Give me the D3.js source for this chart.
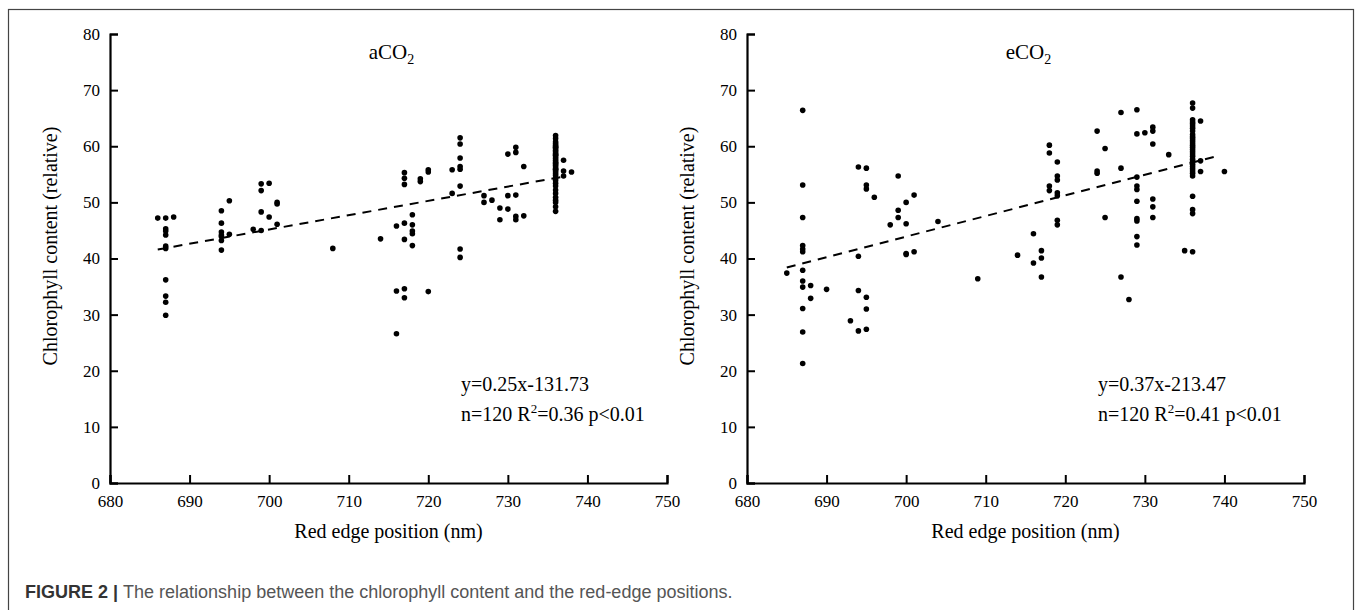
<!DOCTYPE html>
<html>
<head>
<meta charset="utf-8">
<script src="https://cdn.jsdelivr.net/npm/d3@7"></script>
<style>
  body { margin: 0; background: #fff; }
  svg { display: block; }
</style>
</head>
<body>
<svg width="1363" height="610"></svg>
<script>
// axis ticks
var xTicks = [680, 690, 700, 710, 720, 730, 740, 750];
var yTicks = [0, 10, 20, 30, 40, 50, 60, 70, 80];

// aCO2 points: [red edge position (nm), chlorophyll content]
var aco2Points = [
    [686, 47.2],
    [687, 47.2], [687, 45.3], [687, 44.9], [687, 44.2], [687, 42.2], [687, 41.8], [687, 36.2], [687, 33.3], [687, 32.2], [687, 29.9],
    [688, 47.4],
    [694, 48.5], [694, 46.3], [694, 44.7], [694, 44.2], [694, 43.9], [694, 43.2], [694, 41.5],
    [695, 50.3], [695, 44.3],
    [698, 45.2],
    [699, 53.3], [699, 52.1], [699, 48.3], [699, 45.0],
    [700, 53.4], [700, 47.4],
    [701, 50.0], [701, 49.7], [701, 46.1],
    [708, 41.8],
    [714, 43.5],
    [716, 45.8], [716, 34.2], [716, 26.6],
    [717, 55.3], [717, 54.3], [717, 53.2], [717, 46.3], [717, 43.4], [717, 34.6], [717, 33.0],
    [718, 47.8], [718, 46.0], [718, 44.9], [718, 44.4], [718, 42.3],
    [719, 54.2], [719, 53.7],
    [720, 55.8], [720, 55.4], [720, 34.1],
    [723, 55.8], [723, 51.6],
    [724, 61.5], [724, 60.4], [724, 57.9], [724, 56.4], [724, 55.9], [724, 52.9], [724, 41.7], [724, 40.2],
    [727, 51.2], [727, 50.0],
    [728, 50.4],
    [729, 49.0], [729, 46.9],
    [730, 58.6], [730, 51.2], [730, 48.8],
    [731, 59.8], [731, 58.9], [731, 51.3], [731, 47.5], [731, 46.9],
    [732, 56.4], [732, 47.6],
    [736, 61.9], [736, 61.4], [736, 60.8], [736, 60.5], [736, 60.2], [736, 59.9], [736, 59.8], [736, 59.6],
    [736, 59.3], [736, 59.0], [736, 58.7], [736, 58.5], [736, 58.4], [736, 58.1], [736, 57.8], [736, 57.5],
    [736, 57.2], [736, 57.0], [736, 56.9], [736, 56.6], [736, 56.3], [736, 56.0], [736, 55.9], [736, 55.7],
    [736, 55.4], [736, 55.1], [736, 54.8], [736, 54.3], [736, 53.9], [736, 53.4], [736, 52.9], [736, 52.2],
    [736, 51.6], [736, 50.9], [736, 50.4], [736, 50.0], [736, 49.2], [736, 48.4],
    [737, 57.5], [737, 55.6], [737, 54.7],
    [738, 55.4]
];

// eCO2 points
var eco2Points = [
    [685, 37.4],
    [687, 66.4], [687, 53.1], [687, 47.3], [687, 42.3], [687, 41.7], [687, 41.2], [687, 37.9], [687, 36.0], [687, 34.9], [687, 31.1], [687, 26.9], [687, 21.3],
    [688, 35.2], [688, 32.9],
    [690, 34.5],
    [693, 28.9],
    [694, 56.3], [694, 40.4], [694, 34.3], [694, 27.1],
    [695, 56.1], [695, 53.1], [695, 52.4], [695, 33.1], [695, 31.0], [695, 27.4],
    [696, 50.9],
    [698, 46.0],
    [699, 54.7], [699, 48.6], [699, 47.3],
    [700, 50.0], [700, 46.2], [700, 40.9], [700, 40.7],
    [701, 51.3], [701, 41.2],
    [704, 46.6],
    [709, 36.4],
    [714, 40.6],
    [716, 44.4], [716, 39.2],
    [717, 41.4], [717, 40.1], [717, 36.7],
    [718, 60.2], [718, 58.8], [718, 52.9], [718, 52.1],
    [719, 57.2], [719, 54.7], [719, 54.0], [719, 51.7], [719, 51.2], [719, 46.8], [719, 46.0],
    [724, 62.7], [724, 55.6], [724, 55.2],
    [725, 59.6], [725, 47.3],
    [727, 66.0], [727, 56.1], [727, 36.7],
    [728, 32.7],
    [729, 66.5], [729, 62.2], [729, 54.5], [729, 52.9], [729, 52.3], [729, 50.2], [729, 47.1], [729, 46.7], [729, 43.9], [729, 42.4],
    [730, 62.4],
    [731, 63.4], [731, 62.7], [731, 60.4], [731, 50.6], [731, 49.2], [731, 47.3],
    [733, 58.5],
    [735, 41.4],
    [736, 67.7], [736, 66.8], [736, 64.7], [736, 64.3], [736, 64.0], [736, 63.6], [736, 63.2], [736, 62.7],
    [736, 62.1], [736, 61.7], [736, 61.4], [736, 61.0], [736, 60.6], [736, 60.2], [736, 59.8], [736, 59.4],
    [736, 59.0], [736, 58.6], [736, 58.2], [736, 57.7], [736, 57.3], [736, 56.8], [736, 56.4], [736, 56.0],
    [736, 55.6], [736, 55.2], [736, 54.7], [736, 51.1], [736, 48.7], [736, 48.0], [736, 41.2],
    [737, 64.5], [737, 57.4], [737, 55.5],
    [740, 55.5]
];

// fitted lines as drawn (start, end)
var aco2Fit = [[686, 41.6], [737, 54.6]];
var eco2Fit = [[685, 38.4], [739.5, 58.4]];

var aco2Stats = ["y=0.25x-131.73", "0.36"];
var eco2Stats = ["y=0.37x-213.47", "0.41"];

var serif = "'Liberation Serif', 'Times New Roman', serif";
var svg = d3.select("svg");

// frame round the figure
svg.append("rect")
    .attr("x", 8.5).attr("y", 9.5)
    .attr("width", 1345).attr("height", 620)
    .attr("fill", "none")
    .attr("stroke", "#444")
    .attr("stroke-width", 1.2);

function drawScatter(left, points, fit, title, stats) {
    var width = 557, top = 34, bottom = 483;

    var x = d3.scaleLinear().domain([680, 750]).range([left, left + width]),
        y = d3.scaleLinear().domain([0, 80]).range([bottom, top]);

    var g = svg.append("g");

    //x axis, ticks pointing up into the plot
    var xAxis = g.append("g")
        .attr("transform", "translate(0," + bottom + ")")
        .call(d3.axisBottom(x).tickValues(xTicks).tickSize(-8).tickPadding(12).tickFormat(d3.format("d")));

    //y axis, ticks pointing right
    var yAxis = g.append("g")
        .attr("transform", "translate(" + left + ",0)")
        .call(d3.axisLeft(y).tickValues(yTicks).tickSize(-8).tickPadding(10));

    [xAxis, yAxis].forEach(function (a) {
        a.attr("font-family", serif).attr("font-size", 17);
        a.select(".domain").attr("stroke", "#000").attr("stroke-width", 2.2);
        a.selectAll(".tick line").attr("stroke", "#000").attr("stroke-width", 2);
        a.selectAll(".tick text").attr("fill", "#000");
    });
    xAxis.selectAll(".tick text").attr("dy", "0.71em");

    //points
    g.selectAll(".dot")
        .data(points)
        .enter().append("circle")
        .attr("class", "dot")
        .attr("cx", function (d) { return x(d[0]); })
        .attr("cy", function (d) { return y(d[1]); })
        .attr("r", 2.8)
        .attr("fill", "#000");

    //dashed regression line
    g.append("line")
        .attr("x1", x(fit[0][0])).attr("y1", y(fit[0][1]))
        .attr("x2", x(fit[1][0])).attr("y2", y(fit[1][1]))
        .attr("stroke", "#000")
        .attr("stroke-width", 2)
        .attr("stroke-dasharray", "9,7");

    //title with subscript
    var t = g.append("text")
        .attr("x", left + width / 2 + 3)
        .attr("y", 59)
        .attr("text-anchor", "middle")
        .attr("font-family", serif)
        .attr("font-size", "21px")
        .text(title);
    t.append("tspan").attr("font-size", "14px").attr("dy", 5).text("2");

    //regression stats
    g.append("text")
        .attr("x", left + 351)
        .attr("y", 391)
        .attr("font-family", serif)
        .attr("font-size", "20px")
        .text(stats[0]);

    var s = g.append("text")
        .attr("x", left + 351)
        .attr("y", 421)
        .attr("font-family", serif)
        .attr("font-size", "20px")
        .text("n=120 R");
    s.append("tspan").attr("font-size", "13px").attr("dy", -8).text("2");
    s.append("tspan").attr("dy", 8).text("=" + stats[1] + " p<0.01");

    //axis titles
    g.append("text")
        .attr("x", left + width / 2)
        .attr("y", 538)
        .attr("text-anchor", "middle")
        .attr("font-family", serif)
        .attr("font-size", "20px")
        .text("Red edge position (nm)");

    g.append("text")
        .attr("transform", "translate(" + (left - 53) + "," + 246 + ") rotate(-90)")
        .attr("text-anchor", "middle")
        .attr("font-family", serif)
        .attr("font-size", "20px")
        .text("Chlorophyll content (relative)");
}

drawScatter(110, aco2Points, aco2Fit, "aCO", aco2Stats);
drawScatter(747, eco2Points, eco2Fit, "eCO", eco2Stats);

//caption
var cap = svg.append("text")
    .attr("x", 25)
    .attr("y", 598)
    .attr("font-family", "'Liberation Sans', Arial, sans-serif")
    .attr("font-size", "18px")
    .attr("fill", "#555");
cap.append("tspan").attr("font-weight", "bold").attr("fill", "#333").text("FIGURE 2 | ");
cap.append("tspan").text("The relationship between the chlorophyll content and the red-edge positions.");
</script>
</body>
</html>
